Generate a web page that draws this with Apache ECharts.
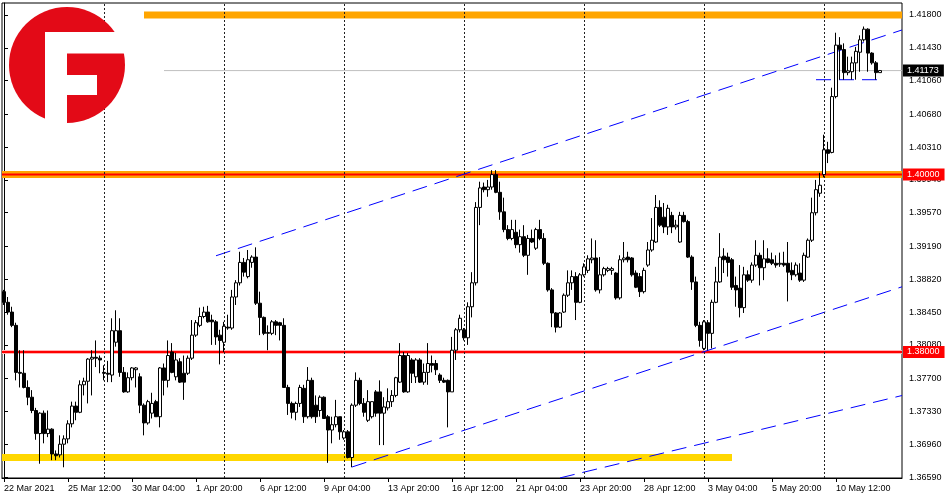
<!DOCTYPE html>
<html><head><meta charset="utf-8">
<script src="https://cdn.jsdelivr.net/npm/echarts@6/dist/echarts.min.js"></script>
<style>html,body{margin:0;padding:0;background:#fff}#c{width:950px;height:500px}</style>
</head><body><div id="c"></div>
<script>
// ---- H4 candles (22 Mar 2021 20:00 .. 12 May 2021 04:00) ----
const opens = [1.3868,1.3856,1.3845,1.3830,1.3777,1.3776,1.3760,1.3749,1.3734,1.3708,1.3731,1.3708,1.3713,1.3685,1.3684,1.3696,1.3702,1.3719,1.3739,1.3732,
1.3763,1.3767,1.3792,1.3794,1.3793,1.3777,1.3776,1.3774,1.3811,1.3824,1.3777,1.3755,1.3771,1.3780,1.3772,1.3740,1.3720,1.3731,1.3744,1.3727,
1.3782,1.3768,1.3800,1.3772,1.3789,1.3776,1.3776,1.3793,1.3819,1.3830,1.3840,1.3845,1.3836,1.3834,1.3819,1.3811,1.3828,1.3827,1.3862,1.3878,
1.3901,1.3885,1.3901,1.3907,1.3855,1.3839,1.3821,1.3821,1.3834,1.3833,1.3830,1.3760,1.3742,1.3732,1.3742,1.3759,1.3727,1.3768,1.3740,1.3734,
1.3749,1.3727,1.3712,1.3718,1.3727,1.3703,1.3710,1.3681,1.3740,1.3768,1.3742,1.3723,1.3727,1.3755,1.3755,1.3731,1.3737,1.3744,1.3751,1.3766,
1.3796,1.3755,1.3791,1.3772,1.3791,1.3766,1.3777,1.3787,1.3787,1.3774,1.3768,1.3768,1.3755,1.3802,1.3825,1.3825,1.3816,1.3851,1.3878,1.3963,
1.3986,1.3983,1.3986,1.4000,1.3980,1.3958,1.3938,1.3928,1.3935,1.3921,1.3930,1.3909,1.3928,1.3917,1.3938,1.3928,1.3900,1.3870,1.3844,1.3828,
1.3845,1.3864,1.3878,1.3885,1.3856,1.3887,1.3892,1.3904,1.3906,1.3870,1.3887,1.3892,1.3892,1.3889,1.3861,1.3904,1.3907,1.3906,1.3889,1.3885,
1.3868,1.3898,1.3915,1.3924,1.3963,1.3952,1.3941,1.3954,1.3941,1.3924,1.3954,1.3947,1.3907,1.3879,1.3830,1.3804,1.3833,1.3821,1.3856,1.3879,
1.3908,1.3907,1.3904,1.3875,1.3872,1.3850,1.3887,1.3881,1.3898,1.3909,1.3895,1.3905,1.3904,1.3900,1.3899,1.3900,1.3900,1.3892,1.3887,1.3889,
1.3881,1.3907,1.3926,1.3957,1.3979,1.4000,1.4028,1.4025,1.4088,1.4146,1.4141,1.4115,1.4116,1.4126,1.4138,1.4152,1.4164,1.4137,1.4126,1.4115];
const closes = [1.3856,1.3845,1.3830,1.3777,1.3776,1.3760,1.3749,1.3734,1.3708,1.3731,1.3708,1.3713,1.3685,1.3683,1.3696,1.3702,1.3719,1.3739,1.3732,1.3763,
1.3767,1.3792,1.3794,1.3793,1.3791,1.3776,1.3775,1.3824,1.3824,1.3777,1.3755,1.3771,1.3782,1.3782,1.3740,1.3720,1.3744,1.3742,1.3727,1.3782,
1.3768,1.3796,1.3777,1.3791,1.3766,1.3766,1.3793,1.3819,1.3833,1.3840,1.3845,1.3834,1.3834,1.3817,1.3813,1.3829,1.3827,1.3862,1.3878,1.3901,
1.3890,1.3904,1.3907,1.3855,1.3839,1.3821,1.3822,1.3834,1.3830,1.3830,1.3760,1.3742,1.3732,1.3742,1.3760,1.3727,1.3768,1.3727,1.3727,1.3749,
1.3725,1.3712,1.3718,1.3727,1.3710,1.3710,1.3681,1.3740,1.3768,1.3742,1.3732,1.3744,1.3744,1.3731,1.3731,1.3738,1.3744,1.3751,1.3771,1.3796,
1.3755,1.3796,1.3776,1.3791,1.3766,1.3777,1.3787,1.3785,1.3780,1.3768,1.3766,1.3755,1.3802,1.3825,1.3838,1.3816,1.3851,1.3878,1.3963,1.3985,
1.3983,1.3986,1.4000,1.3980,1.3958,1.3938,1.3928,1.3938,1.3921,1.3930,1.3909,1.3928,1.3924,1.3938,1.3928,1.3900,1.3870,1.3844,1.3828,1.3844,
1.3864,1.3878,1.3885,1.3856,1.3887,1.3896,1.3905,1.3906,1.3870,1.3887,1.3894,1.3894,1.3894,1.3861,1.3904,1.3906,1.3904,1.3887,1.3873,1.3868,
1.3892,1.3915,1.3926,1.3963,1.3943,1.3941,1.3962,1.3941,1.3943,1.3954,1.3947,1.3907,1.3879,1.3830,1.3813,1.3834,1.3821,1.3856,1.3879,1.3907,
1.3904,1.3901,1.3873,1.3870,1.3850,1.3887,1.3881,1.3898,1.3909,1.3895,1.3905,1.3901,1.3900,1.3898,1.3900,1.3898,1.3890,1.3887,1.3898,1.3881,
1.3909,1.3926,1.3957,1.3983,1.3988,1.4028,1.4024,1.4088,1.4146,1.4141,1.4115,1.4117,1.4126,1.4139,1.4152,1.4164,1.4137,1.4126,1.4115,1.41173];
const lows = [1.3853,1.3842,1.3828,1.3768,1.3760,1.3759,1.3740,1.3731,1.3701,1.3674,1.3697,1.3704,1.3678,1.3678,1.3681,1.3670,1.3697,1.3715,1.3723,1.3731,
1.3751,1.3742,1.3751,1.3783,1.3776,1.3768,1.3766,1.3766,1.3806,1.3772,1.3754,1.3754,1.3768,1.3760,1.3731,1.3706,1.3718,1.3725,1.3727,1.3715,
1.3751,1.3760,1.3776,1.3768,1.3765,1.3746,1.3774,1.3791,1.3817,1.3828,1.3838,1.3833,1.3808,1.3808,1.3786,1.3800,1.3825,1.3825,1.3853,1.3875,
1.3885,1.3883,1.3895,1.3853,1.3819,1.3819,1.3802,1.3819,1.3819,1.3813,1.3760,1.3729,1.3725,1.3723,1.3738,1.3720,1.3725,1.3725,1.3720,1.3727,
1.3725,1.3675,1.3697,1.3715,1.3701,1.3701,1.3680,1.3670,1.3738,1.3740,1.3727,1.3721,1.3725,1.3727,1.3695,1.3695,1.3734,1.3738,1.3749,1.3765,
1.3754,1.3754,1.3765,1.3765,1.3765,1.3763,1.3763,1.3777,1.3774,1.3765,1.3765,1.3715,1.3755,1.3791,1.3822,1.3813,1.3808,1.3839,1.3875,1.3943,
1.3980,1.3975,1.3983,1.3979,1.3949,1.3935,1.3926,1.3926,1.3917,1.3912,1.3907,1.3887,1.3923,1.3915,1.3926,1.3898,1.3868,1.3828,1.3822,1.3827,
1.3844,1.3862,1.3870,1.3836,1.3855,1.3885,1.3889,1.3900,1.3868,1.3866,1.3885,1.3890,1.3887,1.3859,1.3859,1.3901,1.3901,1.3885,1.3872,1.3862,
1.3866,1.3896,1.3913,1.3923,1.3941,1.3934,1.3932,1.3934,1.3938,1.3923,1.3946,1.3906,1.3870,1.3828,1.3806,1.3802,1.3802,1.3804,1.3855,1.3878,
1.3889,1.3885,1.3870,1.3851,1.3839,1.3844,1.3879,1.3878,1.3896,1.3875,1.3881,1.3900,1.3898,1.3895,1.3896,1.3896,1.3857,1.3881,1.3885,1.3879,
1.3879,1.3906,1.3924,1.3954,1.3975,1.3997,1.4013,1.4024,1.4086,1.4107,1.4107,1.4112,1.4107,1.4107,1.4116,1.4150,1.4116,1.4124,1.4107,1.4115];
const highs = [1.3870,1.3862,1.3851,1.3833,1.3802,1.3802,1.3768,1.3757,1.3737,1.3732,1.3734,1.3734,1.3714,1.3689,1.3706,1.3706,1.3723,1.3744,1.3744,1.3768,
1.3771,1.3793,1.3802,1.3813,1.3796,1.3785,1.3790,1.3838,1.3847,1.3838,1.3783,1.3777,1.3783,1.3783,1.3776,1.3742,1.3746,1.3754,1.3746,1.3783,
1.3787,1.3813,1.3810,1.3799,1.3793,1.3796,1.3796,1.3836,1.3836,1.3850,1.3851,1.3852,1.3842,1.3836,1.3825,1.3834,1.3842,1.3870,1.3881,1.3913,
1.3906,1.3915,1.3909,1.3918,1.3868,1.3840,1.3830,1.3836,1.3836,1.3834,1.3838,1.3763,1.3744,1.3744,1.3763,1.3763,1.3783,1.3771,1.3751,1.3751,
1.3750,1.3729,1.3727,1.3746,1.3727,1.3712,1.3712,1.3742,1.3777,1.3771,1.3748,1.3757,1.3744,1.3757,1.3768,1.3749,1.3759,1.3757,1.3772,1.3810,
1.3800,1.3799,1.3793,1.3793,1.3793,1.3787,1.3810,1.3796,1.3791,1.3776,1.3771,1.3769,1.3817,1.3827,1.3842,1.3827,1.3856,1.3890,1.3969,1.3992,
1.3991,1.3994,1.4005,1.4005,1.3992,1.3974,1.3943,1.3949,1.3949,1.3938,1.3943,1.3932,1.3938,1.3940,1.3949,1.3934,1.3901,1.3872,1.3845,1.3845,
1.3866,1.3892,1.3892,1.3890,1.3889,1.3900,1.3909,1.3928,1.3926,1.3907,1.3896,1.3896,1.3896,1.3890,1.3909,1.3924,1.3913,1.3907,1.3892,1.3889,
1.3895,1.3924,1.3951,1.3977,1.3971,1.3968,1.3966,1.3958,1.3949,1.3958,1.3958,1.3949,1.3909,1.3885,1.3834,1.3836,1.3836,1.3859,1.3896,1.3934,
1.3917,1.3912,1.3906,1.3885,1.3898,1.3896,1.3892,1.3901,1.3926,1.3912,1.3926,1.3917,1.3912,1.3909,1.3912,1.3913,1.3924,1.3901,1.3901,1.3900,
1.3912,1.3928,1.3974,1.3994,1.4002,1.4045,1.4037,1.4098,1.4160,1.4155,1.4148,1.4133,1.4133,1.4144,1.4157,1.4167,1.4165,1.4138,1.4128,1.4118];

// ---- axes ----
const xTickIndex = [0,16,32,48,64,80,96,112,128,144,160,176,192,208];
const xTickText = ['22 Mar 2021','25 Mar 12:00','30 Mar 04:00','1 Apr 20:00','6 Apr 12:00','9 Apr 04:00','13 Apr 20:00','16 Apr 12:00','21 Apr 04:00','23 Apr 20:00','28 Apr 12:00','3 May 04:00','5 May 20:00','10 May 12:00'];
const yTicks = [1.36590,1.36960,1.37330,1.37700,1.38080,1.38450,1.38820,1.39190,1.39570,1.39940,1.40310,1.40680,1.41060,1.41430,1.41800];
const weekSeparators = [25,55,85,115,145,175,205];

// ---- drawn objects: [fromIndex, fromPrice, toIndex, toPrice] ----
const bandTop = [35, 1.4180, 224.5, 1.4180];
const bandBottom = [-0.5, 1.3681, 182, 1.3681];
const bidLine = [40, 1.41173, 224.5, 1.41173];
const trendLines = [
  [53, 1.39085, 224.5, 1.41631],
  [87, 1.36703, 224.5, 1.38735],
  [139, 1.3658, 224.5, 1.37509],
  [203, 1.4107, 220, 1.4107]
];
const keyLevels = [1.40000, 1.38000];
const bidPrice = 1.41173;

// categories: H4 bars, weekends skipped, plus empty shift area
const MON = ['Jan','Feb','Mar','Apr','May','Jun','Jul','Aug','Sep','Oct','Nov','Dec'];
const categories = [];
(function(){
  let t = Date.UTC(2021,2,22,20);
  while (categories.length < 225) {
    const d = new Date(t); const wd = d.getUTCDay();
    if (wd !== 0 && wd !== 6) categories.push(d.getUTCDate()+' '+MON[d.getUTCMonth()]+' '+String(d.getUTCHours()).padStart(2,'0')+':00');
    t += 4*3600e3;
  }
})();

const candleData = opens.map((o,i)=>[o, closes[i], lows[i], highs[i]]);
const FONT = 'Liberation Sans';
const seg = (a)=>[[a[0],a[1]],[a[2],a[3]]];
const lineSeries = (a, color, width, type, z)=>({type:'line', xAxisIndex:1, data:seg(a), symbol:'none', silent:true, z:z,
  lineStyle:{color:color, width:width, type:type||'solid', cap:'butt'}, animation:false});

const priceTag = (v, bg)=>({yAxis:v, lineStyle:{color:'rgba(0,0,0,0)', width:1},
  label:{show:true, position:'end', distance:1, formatter:v.toFixed(5), color:'#fff', backgroundColor:bg,
    fontSize:9, fontFamily:FONT, padding:[2,5,1,4]}});

const chart = echarts.init(document.getElementById('c'));
chart.setOption({
  animation:false,
  backgroundColor:'#fff',
  grid:{left:2, right:48, top:3, bottom:22, show:true, borderColor:'#000', borderWidth:1, backgroundColor:'#fff'},
  xAxis:[{
    type:'category', data:categories, boundaryGap:true,
    axisLine:{show:true, lineStyle:{color:'#000', width:1}},
    axisTick:{show:true, alignWithLabel:true, length:4, interval:(i)=>xTickIndex.includes(i), lineStyle:{color:'#000'}},
    axisLabel:{interval:(i)=>xTickIndex.includes(i), formatter:(v,i)=>xTickText[xTickIndex.indexOf(i)] || '', align:'left',
      color:'#000', fontSize:9, fontFamily:FONT, margin:6},
    splitLine:{show:false}
  },{type:'value', min:-0.5, max:224.5, show:false}],
  yAxis:{
    type:'value', position:'right', min:1.36579, max:1.41935,
    axisLine:{show:true, lineStyle:{color:'#000'}},
    axisTick:{show:true, length:4, customValues:yTicks, lineStyle:{color:'#000'}},
    axisLabel:{customValues:yTicks, formatter:(v)=>v.toFixed(5), color:'#000', fontSize:9, fontFamily:FONT, margin:7},
    splitLine:{show:false}
  },
  graphic:[
    {type:'circle', shape:{cx:67, cy:65, r:58}, style:{fill:'#E30A17'}, z:100},
    {type:'rect', shape:{x:45, y:32, width:22, height:95}, style:{fill:'#fff'}, z:101},
    {type:'rect', shape:{x:45, y:32, width:82, height:21.5}, style:{fill:'#fff'}, z:101},
    {type:'rect', shape:{x:67, y:75, width:30, height:20}, style:{fill:'#fff'}, z:101}
  ],
  series:[
    {type:'line', xAxisIndex:1, data:[], silent:true, z:1,
      markLine:{silent:true, symbol:'none', label:{show:false}, animation:false,
        lineStyle:{color:'#222', width:1, type:[2,2]},
        data: weekSeparators.map(i=>({xAxis:i}))}},
    lineSeries(bandTop, '#FFA500', 7, 'solid', 2),
    lineSeries(bandBottom, '#FFD700', 7, 'solid', 2),
    lineSeries([-0.5,keyLevels[0],224.5,keyLevels[0]], '#FFA500', 7, 'solid', 2),
    lineSeries([-0.5,keyLevels[0],224.5,keyLevels[0]], '#FF0000', 2, 'solid', 3),
    lineSeries([-0.5,keyLevels[1],224.5,keyLevels[1]], '#FFB3B3', 4, 'solid', 2),
    lineSeries([-0.5,keyLevels[1],224.5,keyLevels[1]], '#FF0000', 2, 'solid', 3),
    lineSeries(bidLine, '#C0C0C0', 1, 'solid', 2),
    ...trendLines.map(t=>lineSeries(t, '#0000FF', 1, [15,8], 3)),
    {type:'candlestick', xAxisIndex:0, data:candleData, barWidth:3, z:5, silent:true,
      itemStyle:{color:'#FFFFFF', color0:'#000000', borderColor:'#000000', borderColor0:'#000000', borderWidth:1}},
    {type:'line', xAxisIndex:1, data:[], silent:true, z:10,
      markLine:{silent:true, symbol:'none', animation:false, precision:5,
        data:[priceTag(bidPrice,'#000000'), priceTag(keyLevels[0],'#FF0000'), priceTag(keyLevels[1],'#FF0000')]}}
  ]
});
</script></body></html>
